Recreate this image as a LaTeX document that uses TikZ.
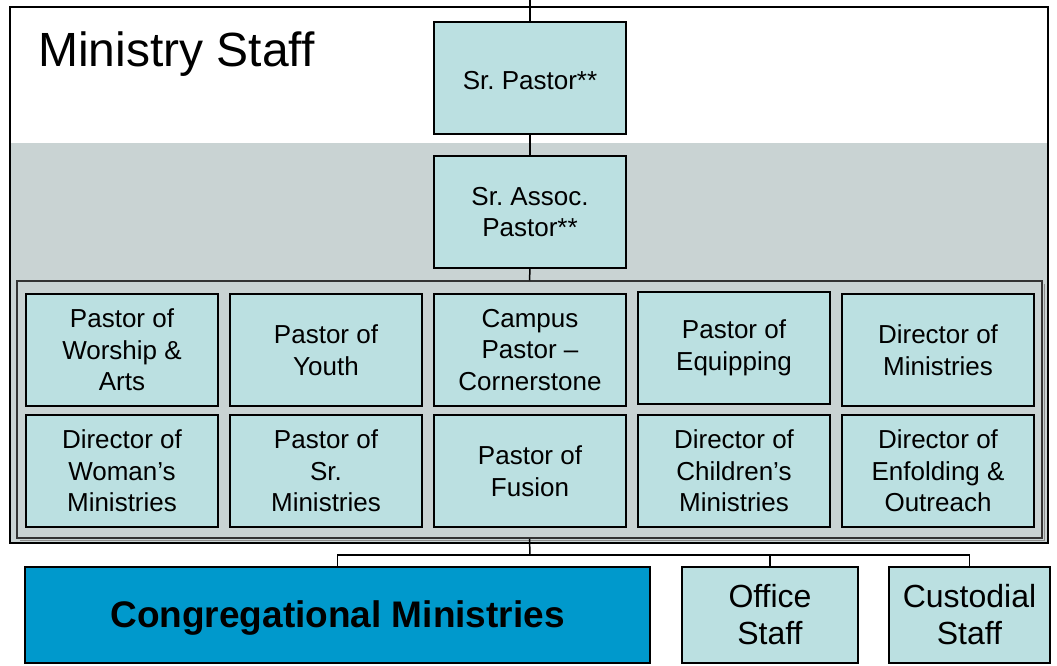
\documentclass[tikz,border=0pt]{standalone}
\usepackage{fontspec}
\setmainfont{Liberation Sans}
\frenchspacing
\definecolor{boxfill}{HTML}{BBE0E1}
\definecolor{bandgray}{HTML}{C9D3D3}
\definecolor{cmblue}{HTML}{0099CC}
\tikzset{
  rolebox/.style={draw=black, line width=1.5pt, fill=boxfill, minimum width=192pt, minimum height=112pt,
    align=center, inner sep=0pt, font=\fontsize{26}{31.5}\selectfont},
  staffbox/.style={draw=black, line width=1.5pt, fill=boxfill, minimum height=96pt,
    align=center, inner sep=0pt, font=\fontsize{32}{37}\selectfont},
  conn/.style={draw=black, line width=1.5pt}
}
\begin{document}
\begin{tikzpicture}[x=1pt,y=-1pt]
\useasboundingbox (0,0) rectangle (1057,665);
% background panels
\fill[white] (10,7) rectangle (1048,143);
\fill[bandgray] (10,143) rectangle (1048,543);
\draw[line width=2pt] (10,7) rectangle (1048,543);
\node[anchor=base west, inner sep=0pt, font=\fontsize{48}{56}\selectfont] (title) at (38,66) {Ministry Staff};
% top boxes
\node[rolebox] (sp) at (530,78) {\raisebox{-2.5pt}[\height][\depth]{Sr. Pastor**}};
\node[rolebox] (sap) at (530,212) {Sr. Assoc.\\Pastor**};
% frame
\draw[black!45, line width=1pt] (20,540.5) -- (1044.5,540.5) -- (1044.5,284);
\node[draw=black!80, line width=1.5pt, fill=bandgray, minimum width=1025pt, minimum height=257pt, inner sep=0pt] (frame) at (529.5,409.5) {};
% grid
\node[rolebox] (r1c1) at (122,350) {Pastor of\\Worship \&\\Arts};
\node[rolebox] (r1c2) at (326,350) {Pastor of\\Youth};
\node[rolebox] (r1c3) at (530,350) {Campus\\Pastor –\\Cornerstone};
\node[rolebox] (r1c4) at (734,348) {Pastor of\\Equipping};
\node[rolebox] (r1c5) at (938,350) {Director of\\Ministries};
\node[rolebox] (r2c1) at (122,471) {Director of\\Woman’s\\Ministries};
\node[rolebox] (r2c2) at (326,471) {Pastor of\\Sr.\\Ministries};
\node[rolebox] (r2c3) at (530,471) {Pastor of\\Fusion};
\node[rolebox] (r2c4) at (734,471) {Director of\\Children’s\\Ministries};
\node[rolebox] (r2c5) at (938,471) {Director of\\Enfolding \&\\Outreach};
% bottom boxes
\node[draw=black, line width=1.5pt, fill=cmblue, minimum width=625pt, minimum height=96pt, inner sep=0pt,
  font=\bfseries\fontsize{37}{44}\selectfont] (cm) at (337.5,615) {\raisebox{-3.5pt}[\height][\depth]{Congregational Ministries}};
\node[staffbox, minimum width=176pt] (os) at (770,615) {Office\\Staff};
\node[staffbox, minimum width=161pt] (cs) at (969.5,615) {Custodial\\Staff};
% connectors
\coordinate (topend) at (530,0);
\coordinate (bus) at (530,555);
\draw[conn] (topend) -- (sp.north);
\draw[conn] (sp.south) -- (sap.north);
\draw[conn] (sap.south) -- (frame.north);
\draw[conn] (frame.south) -- (bus);
\draw[conn] (cm.north) |- (bus) -| (cs.north);
\draw[conn] (os.north) -- (os.north |- bus);
\end{tikzpicture}
\end{document}
